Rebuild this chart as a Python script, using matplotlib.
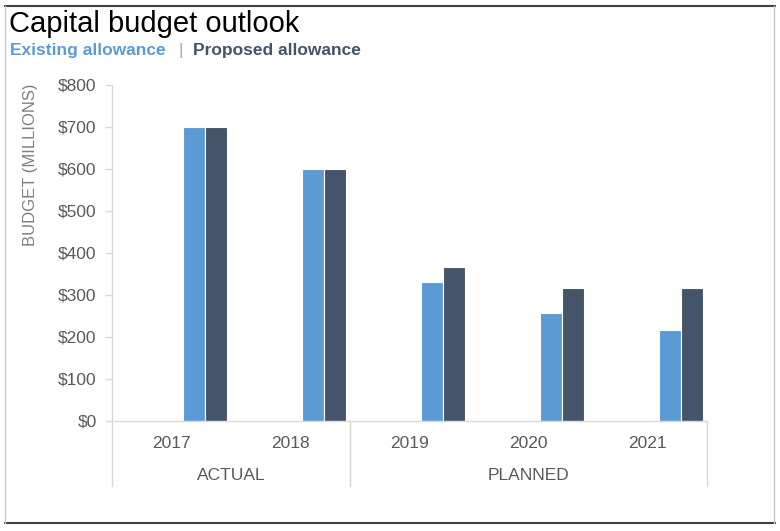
import matplotlib.pyplot as plt
from matplotlib.lines import Line2D

years = ['2017', '2018', '2019', '2020', '2021']
existing = [700, 600, 330, 257, 216]
proposed = [700, 600, 366, 316, 316]
groups = ['ACTUAL', 'PLANNED']
group_spans = [(0, 1), (2, 4)]
yticks = [0, 100, 200, 300, 400, 500, 600, 700, 800]

blue = '#5B9BD5'
navy = '#44546A'
grid_gray = '#D9D9D9'
text_gray = '#595959'

plt.rcParams['font.family'] = ['Liberation Sans', 'DejaVu Sans']

W, H = 780, 531
fig = plt.figure(figsize=(W / 100, H / 100), dpi=100)

# axes placed in pixel terms
left, right, top, bottom = 112, 707, 85, 421
ax = fig.add_axes([left / W, 1 - bottom / H, (right - left) / W, (bottom - top) / H])

x = list(range(len(years)))
bw = 0.185
ax.bar([i + 0.19 for i in x], existing, width=bw, color=blue, edgecolor='white', linewidth=0.8)
ax.bar([i + 0.375 for i in x], proposed, width=bw, color=navy, edgecolor='white', linewidth=0.8)

ax.set_xlim(-0.5, len(years) - 0.5)
ax.set_ylim(0, 800)
ax.set_yticks(yticks)
ax.set_yticklabels([f'${v}' for v in yticks], fontsize=12.5, color=text_gray)
ax.tick_params(axis='y', length=5, color=grid_gray, width=1, pad=6)
ax.set_xticks(x)
ax.set_xticklabels(years, fontsize=12.5, color=text_gray)
ax.tick_params(axis='x', length=0, pad=11)

for s in ['top', 'right']:
    ax.spines[s].set_visible(False)
for s in ['left', 'bottom']:
    ax.spines[s].set_color(grid_gray)
    ax.spines[s].set_linewidth(1)

# group separators and labels below the axis
trans = ax.get_xaxis_transform()
depth = -65 / (bottom - top)
for a, b in group_spans:
    for xx in (a - 0.5, b + 0.5):
        ax.plot([xx, xx], [0, depth], transform=trans, color=grid_gray, lw=1, clip_on=False)
for name, (a, b) in zip(groups, group_spans):
    ax.text((a + b) / 2, -54 / (bottom - top), name, transform=trans, ha='center', va='center',
            fontsize=12.5, color=text_gray)

fig.text(31 / W, 1 - 165 / H, 'BUDGET (MILLIONS)', rotation=90, ha='center', va='center',
         fontsize=12, color='#7F7F7F')

# title and colour legend
fig.text(9 / W, 1 - 24 / H, 'Capital budget outlook', fontsize=21, color='black', va='center')
fig.text(10 / W, 1 - 51 / H, 'Existing allowance', fontsize=12.5, fontweight='bold', color=blue, va='center')
fig.text(178 / W, 1 - 51 / H, '|', fontsize=12.5, color='#A6A6A6', va='center')
fig.text(193 / W, 1 - 51 / H, 'Proposed allowance', fontsize=12.5, fontweight='bold', color=navy, va='center')

# frame around the picture
fig.add_artist(Line2D([5 / W, 775 / W], [1 - 6 / H, 1 - 6 / H], color='#404040', lw=1.5))
fig.add_artist(Line2D([5 / W, 775 / W], [1 - 523 / H, 1 - 523 / H], color='#404040', lw=1.5))
fig.add_artist(Line2D([5 / W, 5 / W], [1 - 6 / H, 1 - 523 / H], color='#C8C8C8', lw=1))
fig.add_artist(Line2D([774 / W, 774 / W], [1 - 6 / H, 1 - 523 / H], color='#C8C8C8', lw=1))

fig.savefig('out.png', dpi=100)
